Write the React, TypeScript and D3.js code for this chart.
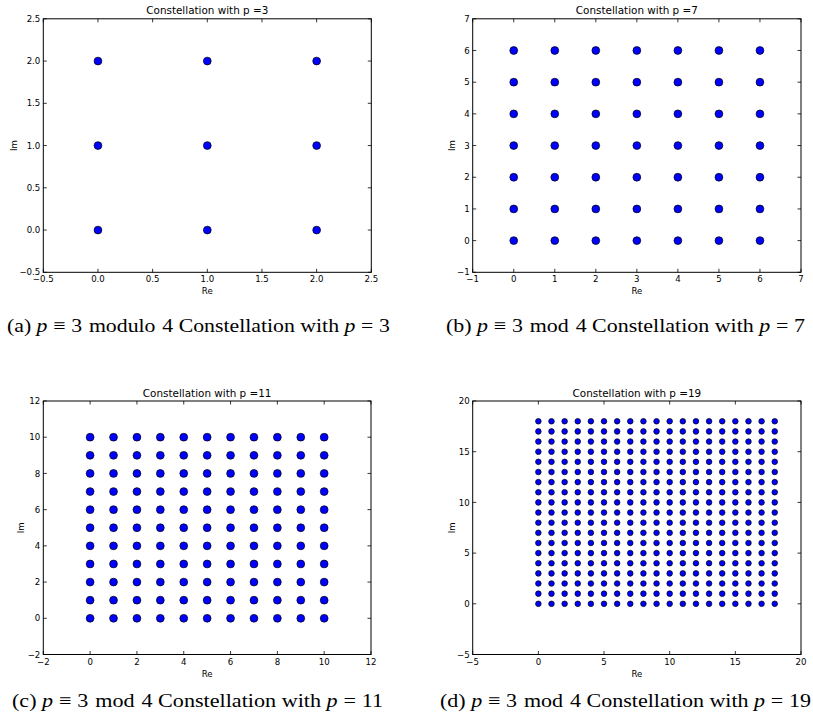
import React from "react";
import * as d3 from "d3";

// Constellation coordinates (real and imaginary parts) for each prime p
const reP3 = [0, 1, 2];
const imP3 = [0, 1, 2];
const reP7 = [0, 1, 2, 3, 4, 5, 6];
const imP7 = [0, 1, 2, 3, 4, 5, 6];
const reP11 = [0, 1, 2, 3, 4, 5, 6, 7, 8, 9, 10];
const imP11 = [0, 1, 2, 3, 4, 5, 6, 7, 8, 9, 10];
const reP19 = [0, 1, 2, 3, 4, 5, 6, 7, 8, 9, 10, 11, 12, 13, 14, 15, 16, 17, 18];
const imP19 = [0, 1, 2, 3, 4, 5, 6, 7, 8, 9, 10, 11, 12, 13, 14, 15, 16, 17, 18];

// Axis ticks
const ticksP3 = [-0.5, 0, 0.5, 1, 1.5, 2, 2.5];
const ticksP7 = [-1, 0, 1, 2, 3, 4, 5, 6, 7];
const ticksP11 = [-2, 0, 2, 4, 6, 8, 10, 12];
const ticksP19 = [-5, 0, 5, 10, 15, 20];

const titles = [
  "Constellation with p =3",
  "Constellation with p =7",
  "Constellation with p =11",
  "Constellation with p =19",
];

type PanelProps = {
  left: number;
  right: number;
  top: number;
  bottom: number;
  re: number[];
  im: number[];
  ticks: number[];
  fmt: (v: number) => string;
  title: string;
  imLabelX: number;
  r: number;
};

const SANS = "'DejaVu Sans', sans-serif";
const TICK = 3.5;

function Panel(p: PanelProps) {
  const lo = p.ticks[0];
  const hi = p.ticks[p.ticks.length - 1];
  const x = d3.scaleLinear().domain([lo, hi]).range([p.left, p.right]);
  const y = d3.scaleLinear().domain([lo, hi]).range([p.bottom, p.top]);
  const pts: [number, number][] = [];
  p.re.forEach((a) => p.im.forEach((b) => pts.push([a, b])));
  const cx = (p.left + p.right) / 2;
  const cy = (p.top + p.bottom) / 2;
  return (
    <g>
      <rect x={p.left} y={p.top} width={p.right - p.left} height={p.bottom - p.top} fill="#fff" />
      {pts.map(([a, b], i) => (
        <circle key={i} cx={x(a)} cy={y(b)} r={p.r} fill="#0000ff" stroke="#000" strokeWidth={0.7} />
      ))}
      {/* ticks, pointing inward on all four sides */}
      {p.ticks.map((t, i) => (
        <g key={"x" + i}>
          <line x1={x(t)} x2={x(t)} y1={p.bottom} y2={p.bottom - TICK} stroke="#000" strokeWidth={0.8} />
          <line x1={x(t)} x2={x(t)} y1={p.top} y2={p.top + TICK} stroke="#000" strokeWidth={0.8} />
          <text x={x(t)} y={p.bottom + 10} textAnchor="middle" fontFamily={SANS} fontSize={8.6} fill="#000">
            {p.fmt(t)}
          </text>
        </g>
      ))}
      {p.ticks.map((t, i) => (
        <g key={"y" + i}>
          <line x1={p.left} x2={p.left + TICK} y1={y(t)} y2={y(t)} stroke="#000" strokeWidth={0.8} />
          <line x1={p.right} x2={p.right - TICK} y1={y(t)} y2={y(t)} stroke="#000" strokeWidth={0.8} />
          <text x={p.left - 3} y={y(t) + 3.1} textAnchor="end" fontFamily={SANS} fontSize={8.6} fill="#000">
            {p.fmt(t)}
          </text>
        </g>
      ))}
      <rect x={p.left} y={p.top} width={p.right - p.left} height={p.bottom - p.top} fill="none" stroke="#000" strokeWidth={1} />
      <text x={cx} y={p.top - 4.5} textAnchor="middle" fontFamily={SANS} fontSize={10.4} fill="#000">
        {p.title}
      </text>
      <text x={cx} y={p.bottom + 22} textAnchor="middle" fontFamily={SANS} fontSize={8.6} fill="#000">
        Re
      </text>
      <text
        transform={`translate(${p.imLabelX},${cy}) rotate(-90)`}
        textAnchor="middle"
        dy="0.35em"
        fontFamily={SANS}
        fontSize={8.6}
        fill="#000"
      >
        Im
      </text>
    </g>
  );
}

const SERIF = "'Liberation Serif', 'Times New Roman', serif";

// Sub-figure caption with math-style spacing around relations and "mod"
function Caption({
  x,
  y,
  width,
  tag,
  modWord,
  p,
}: {
  x: number;
  y: number;
  width: number;
  tag: string;
  modWord: string;
  p: string;
}) {
  return (
    <text x={x} y={y} fontFamily={SERIF} fontSize={19.2} fill="#000" textLength={width} lengthAdjust="spacingAndGlyphs">
      <tspan>{tag} </tspan>
      <tspan fontStyle="italic">p</tspan>
      <tspan dx={5}>≡</tspan>
      <tspan dx={5}>3</tspan>
      <tspan dx={6}>{modWord}</tspan>
      <tspan dx={6}>4 Constellation with </tspan>
      <tspan fontStyle="italic">p</tspan>
      <tspan dx={5}>=</tspan>
      <tspan dx={5}>{p}</tspan>
    </text>
  );
}

const fmt1 = d3.format(".1f");
const fmt0 = d3.format("d");

export default function App() {
  return (
    <div style={{ position: "absolute", left: 0, top: 0 }}>
      <svg width={813} height={723} style={{ display: "block", background: "#fff" }}>
        <rect width={813} height={723} fill="#fff" />
        <Panel left={43.3} right={371.3} top={18.8} bottom={272.3} re={reP3} im={imP3} ticks={ticksP3} fmt={fmt1} title={titles[0]} imLabelX={14} r={3.9} />
        <Panel left={472.7} right={801} top={18.8} bottom={272.3} re={reP7} im={imP7} ticks={ticksP7} fmt={fmt0} title={titles[1]} imLabelX={452.3} r={3.9} />
        <Panel left={43.3} right={371} top={401} bottom={654.5} re={reP11} im={imP11} ticks={ticksP11} fmt={fmt0} title={titles[2]} imLabelX={20.7} r={3.9} />
        <Panel left={472.7} right={801} top={401} bottom={654.5} re={reP19} im={imP19} ticks={ticksP19} fmt={fmt0} title={titles[3]} imLabelX={452.3} r={2.8} />
        <Caption x={7} y={332} width={383} tag="(a)" modWord="modulo" p="3" />
        <Caption x={446} y={332} width={359} tag="(b)" modWord="mod" p="7" />
        <Caption x={12} y={707} width={371} tag="(c)" modWord="mod" p="11" />
        <Caption x={440} y={707} width={371} tag="(d)" modWord="mod" p="19" />
      </svg>
    </div>
  );
}
